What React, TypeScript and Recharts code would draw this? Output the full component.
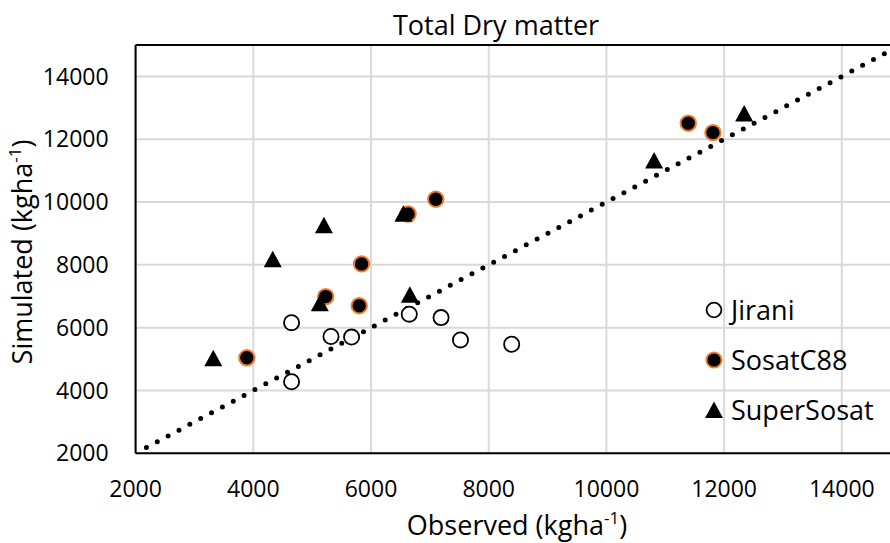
import React from 'react';
import { ScatterChart, Scatter, XAxis, YAxis, CartesianGrid, ReferenceLine, Legend } from 'recharts';

const jiraniObserved = [4650, 5320, 5670, 6650, 7190, 7520, 8390, 4650];
const jiraniSimulated = [6160, 5720, 5700, 6430, 6320, 5610, 5470, 4280];

const sosatObserved = [7100, 6630, 5840, 5230, 5800, 3890, 11390, 11810];
const sosatSimulated = [10090, 9620, 8030, 6990, 6700, 5040, 12510, 12210];

const superObserved = [5200, 4330, 6550, 5130, 6660, 12340, 10810, 3320];
const superSimulated = [9260, 8180, 9630, 6780, 7050, 12820, 11320, 5030];

const axisTicks = [2000, 4000, 6000, 8000, 10000, 12000, 14000];
const axisDomain = [2000, 15000];
const oneToOne = [2184, 15000];

const seriesNames = ['Jirani', 'SosatC88', 'SuperSosat'];

const toPoints = (xs: number[], ys: number[]) => xs.map((x, i) => ({ x, y: ys[i] }));

const jiraniData = toPoints(jiraniObserved, jiraniSimulated);
const sosatData = toPoints(sosatObserved, sosatSimulated);
const superData = toPoints(superObserved, superSimulated);

const FONT = '"Open Sans", sans-serif';
const ORANGE = '#ED7D31';

const OpenCircle = (props: any) => {
  const { cx, cy } = props;
  if (cx == null || cy == null) return <g />;
  return <circle cx={cx} cy={cy} r={7.6} fill="#fff" stroke="#000" strokeWidth={1.8} />;
};

const OrangeDot = (props: any) => {
  const { cx, cy } = props;
  if (cx == null || cy == null) return <g />;
  return <circle cx={cx} cy={cy} r={7.7} fill="#000" stroke={ORANGE} strokeWidth={2} />;
};

const Triangle = (props: any) => {
  const { cx, cy } = props;
  if (cx == null || cy == null) return <g />;
  return (
    <polygon
      points={`${cx},${cy - 8.5} ${cx + 9},${cy + 8} ${cx - 9},${cy + 8}`}
      fill="#000"
    />
  );
};

const LegendIcon = ({ name }: { name: string }) => (
  <svg width={20} height={20} style={{ display: 'block' }}>
    {name === 'Jirani' && <circle cx={10} cy={10} r={7.4} fill="#fff" stroke="#000" strokeWidth={1.8} />}
    {name === 'SosatC88' && <circle cx={10} cy={10} r={7.6} fill="#000" stroke={ORANGE} strokeWidth={2} />}
    {name === 'SuperSosat' && <polygon points="10,1.5 19,18 1,18" fill="#000" />}
  </svg>
);

const renderLegend = (props: any) => {
  const payload = (props.payload || []).filter((p: any) => seriesNames.includes(p.value));
  return (
    <div style={{ fontFamily: FONT }}>
      {payload.map((p: any) => (
        <div key={p.value} style={{ display: 'flex', alignItems: 'center', height: 50 }}>
          <LegendIcon name={p.value} />
          <span style={{ marginLeft: 7, fontSize: 27, color: '#000', lineHeight: '50px' }}>{p.value}</span>
        </div>
      ))}
    </div>
  );
};

export default function App() {
  return (
    <div style={{ position: 'absolute', left: 0, top: 0, width: 890, height: 543, overflow: 'hidden', background: '#fff' }}>
      <ScatterChart
        width={910}
        height={543}
        margin={{ top: 45, right: 9.3, bottom: 0, left: 0 }}
        style={{ fontFamily: FONT }}
      >
        <CartesianGrid stroke="#d9d9d9" strokeWidth={2} />
        <XAxis
          type="number"
          dataKey="x"
          domain={axisDomain}
          ticks={axisTicks}
          allowDataOverflow
          height={89.7}
          tickSize={0}
          tickMargin={27}
          tickLine={false}
          axisLine={{ stroke: '#000', strokeWidth: 2 }}
          tick={{ fontSize: 23, fill: '#000', fontFamily: FONT }}
        />
        <YAxis
          type="number"
          dataKey="y"
          domain={axisDomain}
          ticks={axisTicks}
          allowDataOverflow
          width={135.6}
          tickSize={0}
          tickMargin={27}
          tickLine={false}
          axisLine={{ stroke: '#000', strokeWidth: 2 }}
          tick={{ fontSize: 23, fill: '#000', fontFamily: FONT }}
        />
        <ReferenceLine y={15000} stroke="#000" strokeWidth={2} />
        <ReferenceLine x={15000} stroke="#000" strokeWidth={2} />
        <ReferenceLine
          segment={[{ x: oneToOne[0], y: oneToOne[0] }, { x: oneToOne[1], y: oneToOne[1] }]}
          stroke="#000"
          strokeWidth={5}
          strokeDasharray="0 12.3"
          strokeLinecap="round"
        />
        <Scatter name="Jirani" data={jiraniData} shape={OpenCircle} isAnimationActive={false} />
        <Scatter name="SosatC88" data={sosatData} shape={OrangeDot} isAnimationActive={false} />
        <Scatter name="SuperSosat" data={superData} shape={Triangle} isAnimationActive={false} />
        <Legend
          layout="vertical"
          align="center"
          verticalAlign="middle"
          content={renderLegend}
          wrapperStyle={{ position: 'absolute', left: 704, top: 285, width: 185 }}
        />
      </ScatterChart>
      <svg
        width={890}
        height={543}
        style={{ position: 'absolute', left: 0, top: 0, pointerEvents: 'none', fontFamily: FONT }}
      >
        <text x={496} y={35} textAnchor="middle" fontSize={27} fill="#000">Total Dry matter</text>
        <text x={517} y={535} textAnchor="middle" fontSize={27} fill="#000">
          Observed (kgha<tspan fontSize={17} dy={-11}>-1</tspan><tspan dy={11}>)</tspan>
        </text>
        <text x={31.5} y={252} textAnchor="middle" fontSize={27} fill="#000" transform="rotate(-90, 31.5, 252)">
          Simulated (kgha<tspan fontSize={17} dy={-11}>-1</tspan><tspan dy={11}>)</tspan>
        </text>
      </svg>
    </div>
  );
}
